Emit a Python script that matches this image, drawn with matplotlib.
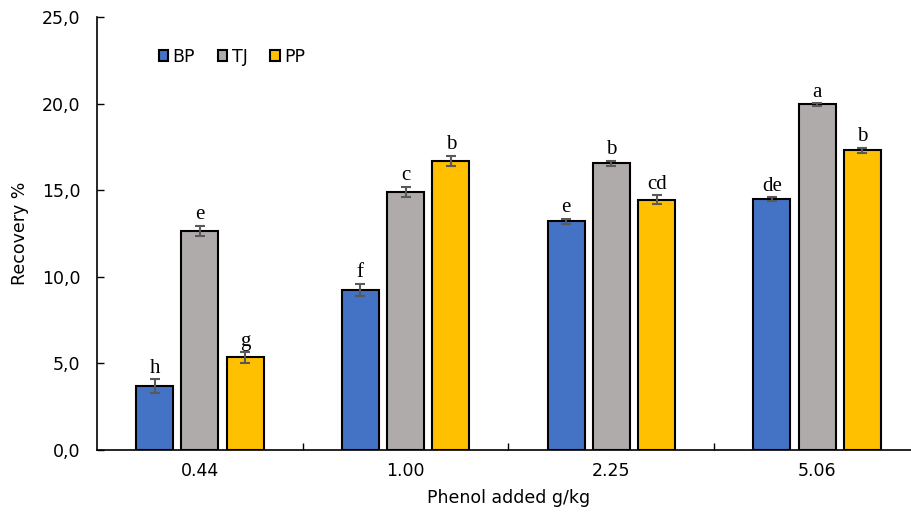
import matplotlib.pyplot as plt
import numpy as np
from matplotlib.ticker import FuncFormatter, FixedLocator

plt.rcParams['font.family'] = ['DejaVu Sans']

# data
doses = ['0.44', '1.00', '2.25', '5.06']
series = ['BP', 'TJ', 'PP']
bp = [3.7, 9.25, 13.2, 14.5]
tj = [12.65, 14.9, 16.55, 19.95]
pp = [5.35, 16.7, 14.45, 17.3]
bp_err = [0.4, 0.35, 0.15, 0.1]
tj_err = [0.3, 0.3, 0.15, 0.08]
pp_err = [0.3, 0.3, 0.25, 0.15]
bp_letters = ['h', 'f', 'e', 'de']
tj_letters = ['e', 'c', 'b', 'a']
pp_letters = ['g', 'b', 'cd', 'b']

colors = ['#4472C4', '#AFABAB', '#FFC000']

fig = plt.figure(figsize=(9.12, 5.17), dpi=100)
ax = fig.add_axes([97 / 912, 1 - 450 / 517, 823 / 912, 433 / 517])

x = np.arange(len(doses))
offsets = [-0.22, 0, 0.22]
width = 0.18

all_vals = [bp, tj, pp]
all_err = [bp_err, tj_err, pp_err]
all_letters = [bp_letters, tj_letters, pp_letters]

for i in range(3):
    ax.bar(x + offsets[i], all_vals[i], width, color=colors[i], edgecolor='black',
           linewidth=1.5, label=series[i], zorder=2)
    ax.errorbar(x + offsets[i], all_vals[i], yerr=all_err[i], fmt='none',
                ecolor='#595959', elinewidth=1.5, capsize=3.5, capthick=1.5, zorder=3)
    for j in range(len(doses)):
        ax.annotate(all_letters[i][j], (x[j] + offsets[i], all_vals[i][j] + all_err[i][j]),
                    xytext=(0, 1), textcoords='offset points', ha='center', va='bottom',
                    fontsize=15, family='Liberation Serif')

ax.set_xlim(-0.5, 3.5)
ax.set_ylim(0, 25)
ax.set_yticks(np.arange(0, 26, 5))
ax.yaxis.set_major_formatter(FuncFormatter(lambda v, p: f'{v:.1f}'.replace('.', ',')))
ax.set_xticks(x)
ax.set_xticklabels(doses)
ax.xaxis.set_minor_locator(FixedLocator([0.5, 1.5, 2.5]))
ax.tick_params(axis='x', which='major', length=0, pad=9, labelsize=12.5)
ax.tick_params(axis='x', which='minor', direction='in', length=5, width=1)
ax.tick_params(axis='y', direction='in', length=5, width=1, labelsize=12.5, pad=12)

ax.spines['top'].set_visible(False)
ax.spines['right'].set_visible(False)
ax.spines['left'].set_linewidth(1.2)
ax.spines['bottom'].set_linewidth(1.2)

ax.set_ylabel('Recovery %', fontsize=12.5)
ax.yaxis.set_label_coords(-0.083, 0.5)
ax.set_xlabel('Phenol added g/kg', fontsize=12.5, labelpad=6)

ax.legend(loc='upper left', bbox_to_anchor=(0.056, 0.965), ncol=3, frameon=False,
          fontsize=12.5, handlelength=0.55, handleheight=0.55, handletextpad=0.25,
          columnspacing=1.3)

fig.savefig('out.png', dpi=100)
